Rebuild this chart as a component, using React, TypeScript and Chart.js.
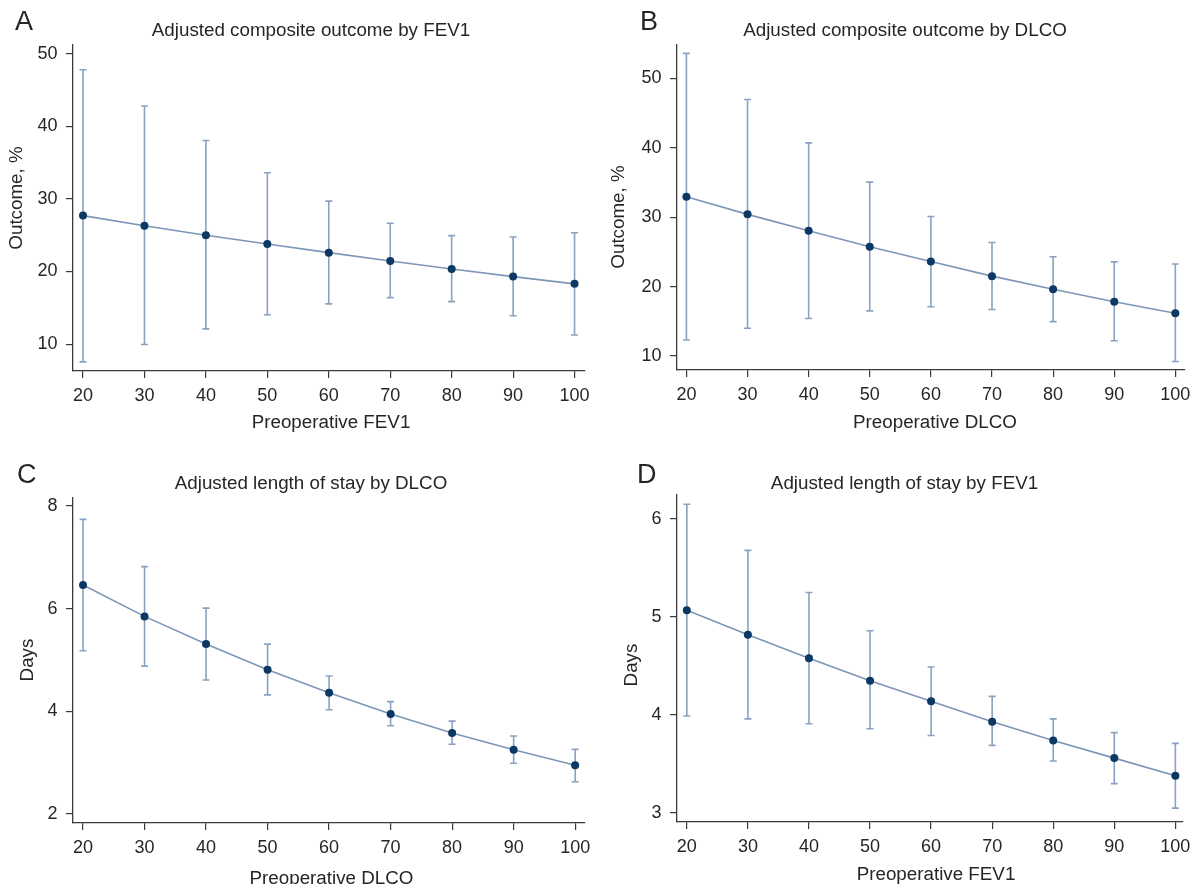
import React, { useEffect, useRef } from "react";
import { Chart, registerables } from "chart.js";

Chart.register(...registerables);

// ---- data ----
const xValues = [20, 30, 40, 50, 60, 70, 80, 90, 100];

const fev1OutcomeEst = [27.7, 26.3, 25.0, 23.8, 22.6, 21.45, 20.35, 19.3, 18.3];
const fev1OutcomeLow = [7.55, 9.95, 12.1, 14.05, 15.55, 16.4, 15.85, 13.9, 11.25];
const fev1OutcomeHigh = [47.8, 42.8, 38.05, 33.6, 29.7, 26.65, 24.95, 24.75, 25.35];

const dlcoOutcomeEst = [32.95, 30.4, 28.05, 25.75, 23.6, 21.5, 19.6, 17.8, 16.15];
const dlcoOutcomeLow = [12.3, 14.0, 15.4, 16.5, 17.1, 16.7, 14.95, 12.2, 9.2];
const dlcoOutcomeHigh = [53.6, 46.95, 40.7, 35.05, 30.1, 26.35, 24.3, 23.55, 23.25];

const dlcoStayEst = [6.46, 5.85, 5.31, 4.81, 4.36, 3.95, 3.58, 3.25, 2.95];
const dlcoStayLow = [5.18, 4.88, 4.61, 4.32, 4.03, 3.72, 3.36, 2.99, 2.63];
const dlcoStayHigh = [7.74, 6.82, 6.01, 5.31, 4.69, 4.19, 3.81, 3.52, 3.26];

const fev1StayEst = [5.07, 4.82, 4.58, 4.35, 4.14, 3.93, 3.74, 3.56, 3.38];
const fev1StayLow = [3.99, 3.96, 3.91, 3.86, 3.79, 3.69, 3.53, 3.3, 3.05];
const fev1StayHigh = [6.15, 5.68, 5.25, 4.86, 4.49, 4.19, 3.96, 3.82, 3.71];

const outcomeTicks = [10, 20, 30, 40, 50];
const stayTicksDlco = [2, 4, 6, 8];
const stayTicksFev1 = [3, 4, 5, 6];

// ---- styles ----
const FONT = "'Liberation Sans', Arial, sans-serif";
const TEXT = "#262626";
const AXIS = "#3a3a3a";
const LINE = "#7d96b8";
const BAR = "#8aa1c1";
const DOT = "#0c3864";

type Panel = {
  key: string;
  left: number; top: number; w: number; h: number;
  area: { l: number; r: number; t: number; b: number };
  xMin: number; xMax: number; yMin: number; yMax: number;
  yTicks: number[];
  est: number[]; low: number[]; high: number[];
  letter: string; letterPos: [number, number];
  title: string; titlePos: [number, number];
  yTitle: string; yTitlePos: [number, number];
  xTitle: string; xTitlePos: [number, number];
};

const panels: Panel[] = [
  {
    key: "A", left: 0, top: 0, w: 600, h: 440,
    area: { l: 73, r: 585, t: 45, b: 371 },
    xMin: 18.37, xMax: 101.7, yMin: 6.3, yMax: 51.2,
    yTicks: outcomeTicks,
    est: fev1OutcomeEst, low: fev1OutcomeLow, high: fev1OutcomeHigh,
    letter: "A", letterPos: [15, 30],
    title: "Adjusted composite outcome by FEV1", titlePos: [311, 36],
    yTitle: "Outcome, %", yTitlePos: [16.5, 198],
    xTitle: "Preoperative FEV1", xTitlePos: [331, 428],
  },
  {
    key: "B", left: 600, top: 0, w: 598, h: 440,
    area: { l: 77, r: 590, t: 45, b: 370 },
    xMin: 18.46, xMax: 101.46, yMin: 7.98, yMax: 54.8,
    yTicks: outcomeTicks,
    est: dlcoOutcomeEst, low: dlcoOutcomeLow, high: dlcoOutcomeHigh,
    letter: "B", letterPos: [40, 30],
    title: "Adjusted composite outcome by DLCO", titlePos: [305, 36],
    yTitle: "Outcome, %", yTitlePos: [19, 217],
    xTitle: "Preoperative DLCO", xTitlePos: [335, 428],
  },
  {
    key: "C", left: 0, top: 440, w: 600, h: 444,
    area: { l: 73, r: 585, t: 58, b: 383 },
    xMin: 18.37, xMax: 101.6, yMin: 1.825, yMax: 8.156,
    yTicks: stayTicksDlco,
    est: dlcoStayEst, low: dlcoStayLow, high: dlcoStayHigh,
    letter: "C", letterPos: [17, 43],
    title: "Adjusted length of stay by DLCO", titlePos: [311, 49],
    yTitle: "Days", yTitlePos: [28, 220],
    xTitle: "Preoperative DLCO", xTitlePos: [331.5, 443.5],
  },
  {
    key: "D", left: 600, top: 440, w: 598, h: 444,
    area: { l: 77, r: 590, t: 55, b: 382 },
    xMin: 18.39, xMax: 101.2, yMin: 2.908, yMax: 6.245,
    yTicks: stayTicksFev1,
    est: fev1StayEst, low: fev1StayLow, high: fev1StayHigh,
    letter: "D", letterPos: [37, 43],
    title: "Adjusted length of stay by FEV1", titlePos: [304.5, 49],
    yTitle: "Days", yTitlePos: [32, 225],
    xTitle: "Preoperative FEV1", xTitlePos: [336, 440],
  },
];

function makeChart(canvas: HTMLCanvasElement, p: Panel) {
  const decor = {
    id: "decor" + p.key,
    beforeDatasetsDraw(chart: any) {
      const { ctx } = chart;
      const xs = chart.scales.x;
      const ys = chart.scales.y;
      ctx.save();
      ctx.strokeStyle = BAR;
      ctx.lineWidth = 1.6;
      p.low.forEach((lo, i) => {
        const px = xs.getPixelForValue(xValues[i]);
        const p1 = ys.getPixelForValue(lo);
        const p2 = ys.getPixelForValue(p.high[i]);
        ctx.beginPath();
        ctx.moveTo(px, p1);
        ctx.lineTo(px, p2);
        ctx.moveTo(px - 3.5, p1);
        ctx.lineTo(px + 3.5, p1);
        ctx.moveTo(px - 3.5, p2);
        ctx.lineTo(px + 3.5, p2);
        ctx.stroke();
      });
      ctx.restore();
    },
    afterDraw(chart: any) {
      const { ctx } = chart;
      ctx.save();
      ctx.fillStyle = TEXT;
      ctx.textBaseline = "alphabetic";
      ctx.textAlign = "left";
      ctx.font = `27px ${FONT}`;
      ctx.fillText(p.letter, p.letterPos[0], p.letterPos[1]);
      ctx.textAlign = "center";
      ctx.font = `18.8px ${FONT}`;
      ctx.fillText(p.title, p.titlePos[0], p.titlePos[1]);
      ctx.fillText(p.xTitle, p.xTitlePos[0], p.xTitlePos[1]);
      ctx.translate(p.yTitlePos[0], p.yTitlePos[1]);
      ctx.rotate(-Math.PI / 2);
      ctx.textBaseline = "middle";
      ctx.fillText(p.yTitle, 0, 0);
      ctx.restore();
    },
  };

  const tickFont = { family: FONT, size: 18 };

  return new Chart(canvas, {
    type: "line",
    data: {
      datasets: [
        {
          data: xValues.map((v, i) => ({ x: v, y: p.est[i] })),
          borderColor: LINE,
          borderWidth: 1.6,
          pointRadius: 4,
          pointBackgroundColor: DOT,
          pointBorderColor: DOT,
          pointBorderWidth: 0,
          tension: 0,
        },
      ],
    },
    options: {
      responsive: false,
      animation: false,
      devicePixelRatio: 1,
      events: [],
      layout: {
        padding: { left: 0, top: p.area.t, right: p.w - p.area.r, bottom: 0 },
      },
      plugins: {
        legend: { display: false },
        tooltip: { enabled: false },
        title: { display: false },
      },
      scales: {
        x: {
          type: "linear",
          min: p.xMin,
          max: p.xMax,
          afterBuildTicks: (s: any) => {
            s.ticks = xValues.map((v) => ({ value: v }));
          },
          afterFit: (s: any) => {
            s.height = p.h - p.area.b;
          },
          ticks: {
            font: tickFont,
            color: TEXT,
            padding: 7.5,
            autoSkip: false,
            maxRotation: 0,
            callback: (v: any) => String(v),
          },
          grid: {
            drawOnChartArea: false,
            drawTicks: true,
            tickLength: 7,
            color: AXIS,
            lineWidth: 1.2,
          },
          border: { display: true, color: AXIS, width: 1.3 },
        },
        y: {
          type: "linear",
          min: p.yMin,
          max: p.yMax,
          afterBuildTicks: (s: any) => {
            s.ticks = p.yTicks.map((v) => ({ value: v }));
          },
          afterFit: (s: any) => {
            s.width = p.area.l;
          },
          ticks: {
            font: tickFont,
            color: TEXT,
            padding: 8.5,
            autoSkip: false,
            callback: (v: any) => String(v),
          },
          grid: {
            drawOnChartArea: false,
            drawTicks: true,
            tickLength: 7,
            color: AXIS,
            lineWidth: 1.2,
          },
          border: { display: true, color: AXIS, width: 1.3 },
        },
      },
    },
    plugins: [decor],
  } as any);
}

function PanelChart({ p }: { p: Panel }) {
  const ref = useRef<HTMLCanvasElement | null>(null);
  useEffect(() => {
    if (!ref.current) return;
    const chart = makeChart(ref.current, p);
    return () => chart.destroy();
  }, [p]);
  return (
    <canvas
      ref={ref}
      width={p.w}
      height={p.h}
      style={{
        position: "absolute",
        left: p.left,
        top: p.top,
        width: p.w,
        height: p.h,
        display: "block",
      }}
    />
  );
}

export default function App() {
  return (
    <div
      style={{
        position: "absolute",
        left: 0,
        top: 0,
        width: 1198,
        height: 884,
        background: "#ffffff",
        overflow: "hidden",
      }}
    >
      {panels.map((p) => (
        <PanelChart key={p.key} p={p} />
      ))}
    </div>
  );
}
